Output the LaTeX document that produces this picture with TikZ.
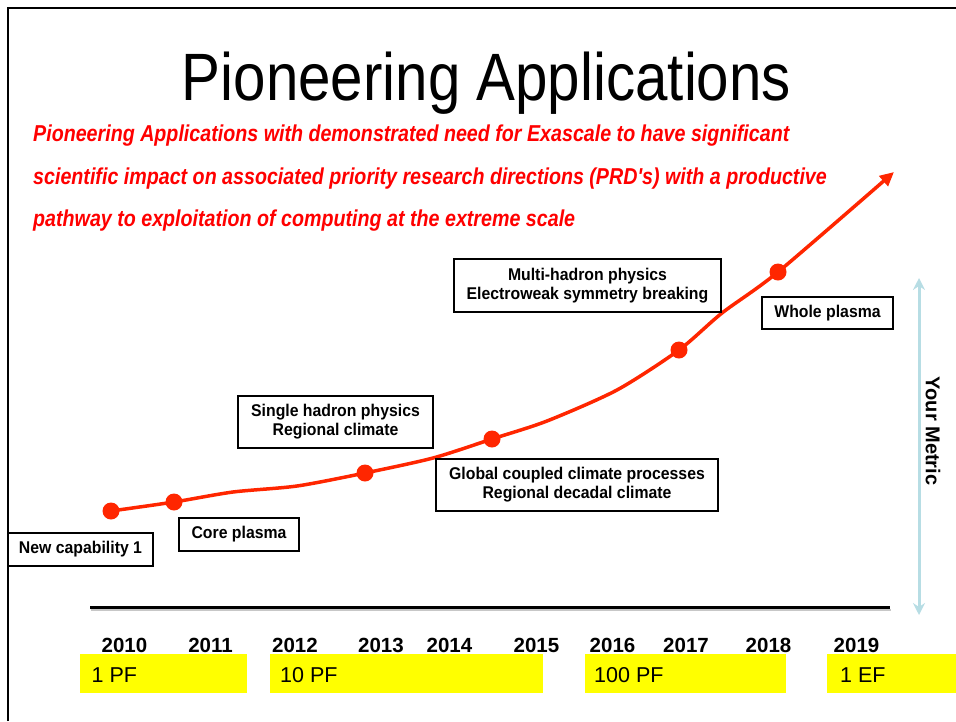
\documentclass[tikz,border=0pt]{standalone}
\usepackage{fontspec}
\setmainfont{Liberation Sans}
\newfontfamily\titlefamily[FakeStretch=0.87]{Liberation Sans}
\newfontfamily\leadfamily[FakeStretch=0.855]{Liberation Sans}
\newfontfamily\boxfamily[FakeStretch=0.93]{Liberation Sans}
\usetikzlibrary{arrows.meta}
\definecolor{curvered}{RGB}{255,38,0}
\definecolor{metricblue}{RGB}{183,221,228}
\definecolor{pfyellow}{RGB}{255,255,0}
\tikzset{
  appbox/.style={draw, line width=2.8pt, inner sep=0pt, align=center,
    font=\boxfamily\bfseries\fontsize{17}{19}\selectfont},
  yearlbl/.style={anchor=base, inner sep=0pt, font=\bfseries\fontsize{20.5}{24}\selectfont},
  pflbl/.style={anchor=base west, inner sep=0pt, font=\fontsize{21.5}{25}\selectfont},
  leadlbl/.style={anchor=base west, inner sep=0pt, text=red,
    font=\leadfamily\bfseries\itshape\fontsize{23}{27}\selectfont},
}
\begin{document}
\begin{tikzpicture}[x=1pt, y=-1pt]
  \useasboundingbox (0,0) rectangle (956,721);
  \draw[line width=1.5pt] (8,721) -- (8,8) -- (956,8);

  \node[anchor=base, font=\titlefamily\fontsize{67}{80}\selectfont] (title) at (486.5,100) {Pioneering Applications};
  \node[leadlbl] (lead1) at (33,141) {Pioneering Applications with demonstrated need for Exascale to have significant};
  \node[leadlbl] (lead2) at (33,184) {scientific impact on associated priority research directions (PRD's) with a productive};
  \node[leadlbl] (lead3) at (33,226) {pathway to exploitation of computing at the extreme scale};

  % time axis
  \draw[line width=2pt, black!22] (91,610) -- (891,610);
  \draw[line width=3pt] (90,607) -- (890,607);
  \fill[pfyellow] (80,654) rectangle (247,693);
  \fill[pfyellow] (270,654) rectangle (543,693);
  \fill[pfyellow] (585,654) rectangle (786,693);
  \fill[pfyellow] (827,654) rectangle (956,693);
  \node[pflbl] (pf1) at (91.5,682) {1 PF};
  \node[pflbl] (pf10) at (280,682) {10 PF};
  \node[pflbl] (pf100) at (594,682) {100 PF};
  \node[pflbl] (ef1) at (840,682) {1 EF};
  \node[yearlbl] (y2010) at (124.5,652) {2010};
  \node[yearlbl] (y2011) at (210.5,652) {2011};
  \node[yearlbl] (y2012) at (295,652) {2012};
  \node[yearlbl] (y2013) at (381,652) {2013};
  \node[yearlbl] (y2014) at (449.5,652) {2014};
  \node[yearlbl] (y2015) at (536.5,652) {2015};
  \node[yearlbl] (y2016) at (612.5,652) {2016};
  \node[yearlbl] (y2017) at (686,652) {2017};
  \node[yearlbl] (y2018) at (768.5,652) {2018};
  \node[yearlbl] (y2019) at (856.5,652) {2019};

  % metric arrow
  \coordinate (metrictop) at (919,278);
  \coordinate (metricbot) at (919,615);
  \draw[metricblue, line width=3pt, {Stealth[length=12pt,width=12pt,inset=4pt]}-{Stealth[length=12pt,width=12pt,inset=4pt]}] (metrictop) -- (metricbot);
  \node[rotate=-90, font=\bfseries\fontsize{20}{24}\selectfont] (metric) at (933,431) {Your Metric};

  % growth curve
  \coordinate (m1) at (111,511);
  \coordinate (m2) at (174,502);
  \coordinate (m3) at (365,473);
  \coordinate (m4) at (492,439);
  \coordinate (m5) at (679,350);
  \coordinate (m6) at (778,272);
  \coordinate (tip) at (894,172);
  \draw[curvered, line width=3.5pt, -{Triangle[length=14pt,width=13pt]}] plot[smooth, tension=0.45] coordinates
    {(m1) (m2) (233,492) (297,486) (m3) (433,458) (m4) (547,421) (617,390) (m5) (722,313) (m6) (tip)};
  \fill[curvered] (m1) circle (8.5) (m2) circle (8.5) (m3) circle (8.5)
    (m4) circle (8.5) (m5) circle (8.5) (m6) circle (8.5);

  % application boxes
  \node[appbox, minimum width=145, minimum height=33] (newcap) at (80.5,549.5) {New capability 1};
  \node[appbox, minimum width=120, minimum height=33] (core) at (239,534.5) {Core plasma};
  \node[appbox, minimum width=195, minimum height=52] (single) at (335.5,422) {Single hadron physics\\Regional climate};
  \node[appbox, minimum width=282, minimum height=52, fill=white] (global) at (577,485) {Global coupled climate processes\\Regional decadal climate};
  \node[appbox, minimum width=267, minimum height=53] (multi) at (587.5,285.5) {Multi-hadron physics\\Electroweak symmetry breaking};
  \node[appbox, minimum width=131, minimum height=32] (whole) at (827.5,313) {Whole plasma};
\end{tikzpicture}
\end{document}
